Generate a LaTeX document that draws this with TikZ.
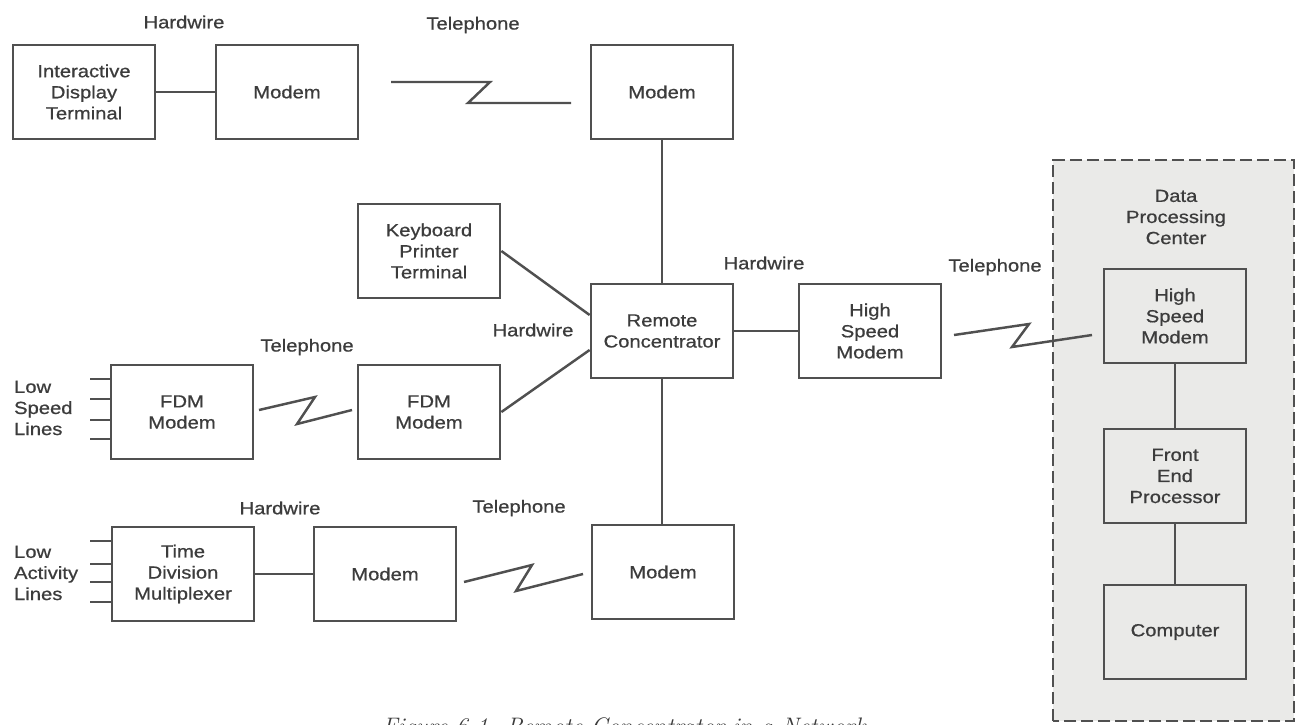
\documentclass[tikz,border=0pt]{standalone}
\usepackage{fontspec}
\setmainfont{Liberation Sans}[FakeStretch=1.15, FakeBold=0.7]
\newfontfamily\capfont{Latin Modern Roman}
\usetikzlibrary{calc}
\definecolor{ink}{HTML}{505050}
\definecolor{txt}{HTML}{3C3C3C}
\definecolor{paper}{HTML}{EAEAE8}

\begin{document}
\begin{tikzpicture}[x=0.02cm, y=-0.02cm, font=\fontsize{10}{12}\selectfont, text=txt,
  unitbox/.style={draw=ink, line width=1.6pt, minimum width=2.84cm, minimum height=1.88cm, align=center, inner sep=2pt},
  wire/.style={draw=ink, line width=1.4pt},
  lbl/.style={inner sep=1pt}]
  \useasboundingbox (0,0) rectangle (1297,724);
  \fill[white] (0,0) rectangle (1297,724);
  \fill[paper] (1053,160) rectangle (1294,721);
  \draw[ink, line width=1.1pt, dash pattern=on 0.24cm off 0.1cm] (1053,721) rectangle (1294,160);

  % boxes
  \node[unitbox] (idt) at (84,92) {Interactive\\Display\\Terminal};
  \node[unitbox] (modA) at (287,92) {Modem};
  \node[unitbox] (modB) at (662,92) {Modem};
  \node[unitbox] (kpt) at (429,251) {Keyboard\\Printer\\Terminal};
  \node[unitbox] (conc) at (662,331) {Remote\\Concentrator};
  \node[unitbox] (hsm) at (870,331) {High\\Speed\\Modem};
  \node[unitbox] (fdmA) at (182,412) {FDM\\Modem};
  \node[unitbox] (fdmB) at (429,412) {FDM\\Modem};
  \node[unitbox] (tdm) at (183,574) {Time\\Division\\Multiplexer};
  \node[unitbox] (modC) at (385,574) {Modem};
  \node[unitbox] (modD) at (663,572) {Modem};
  \node[unitbox] (dpcm) at (1175,316) {High\\Speed\\Modem};
  \node[unitbox] (fep) at (1175,476) {Front\\End\\Processor};
  \node[unitbox] (comp) at (1175,632) {Computer};

  % labels
  \node[lbl] (hwA) at (184,22) {Hardwire};
  \node[lbl] (telA) at (473,25) {Telephone};
  \node[lbl] (hwB) at (533,330) {Hardwire};
  \node[lbl] (telB) at (307,347) {Telephone};
  \node[lbl] (hwC) at (764,263) {Hardwire};
  \node[lbl] (telC) at (995,267) {Telephone};
  \node[lbl] (hwD) at (280,508) {Hardwire};
  \node[lbl] (telD) at (519,508) {Telephone};
  \node[lbl, align=left, anchor=west] (lsl) at (12,408) {Low\\Speed\\Lines};
  \node[lbl, align=left, anchor=west] (lal) at (12,573) {Low\\Activity\\Lines};
  \node[lbl, align=center] (dpc) at (1176,217) {Data\\Processing\\Center};

  % hardwire links
  \draw[wire] (idt) -- (modA);
  \draw[wire] (modB) -- (conc);
  \draw[wire] (kpt.east) -- ([yshift=0.32cm]conc.west);
  \draw[wire] (fdmB.east) -- ([yshift=-0.38cm]conc.west);
  \draw[wire] (conc) -- (hsm);
  \draw[wire] (conc.south) -- (conc.south |- modD.north);
  \draw[wire] (tdm) -- (modC);
  \draw[wire] (dpcm) -- (fep);
  \draw[wire] (fep) -- (comp);

  % telephone links
  \coordinate (tA1) at (391,82);  \coordinate (tA2) at (571,103);
  \draw[wire] (tA1) -- ++(99,0) -- ++(-22,21) -- (tA2);
  \coordinate (tB1) at (259,410); \coordinate (tB2) at (352,410);
  \draw[wire] (tB1) -- ++(56,-13) -- ++(-18,27) -- (tB2);
  \coordinate (tC1) at (954,335); \coordinate (tC2) at (1092,335);
  \draw[wire] (tC1) -- ++(75,-11) -- ++(-17,23) -- (tC2);
  \coordinate (tD1) at (464,582); \coordinate (tD2) at (583,574);
  \draw[wire] (tD1) -- ++(68,-17) -- ++(-16,26) -- (tD2);

  % incoming lines
  \foreach \dy in {-33,-13,8,27}
    \draw[wire] ($(fdmA.west)+(0,\dy)$) -- ++(-20,0);
  \foreach \dy in {-33,-10,8,28}
    \draw[wire] ($(tdm.west)+(0,\dy)$) -- ++(-21,0);

  \node[anchor=base west, inner sep=0pt, font=\capfont\itshape\fontsize{13.6}{16}\selectfont] (figcap) at (382,734) {Figure 6-1.  Remote Concentrator in a Network};
\end{tikzpicture}
\end{document}
